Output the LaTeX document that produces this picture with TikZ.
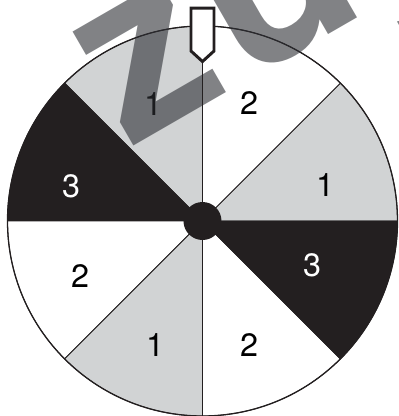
\documentclass[tikz,border=0pt]{standalone}
\usepackage{fontspec}
\setmainfont{TeX Gyre Heros}
\definecolor{spinlight}{RGB}{209,211,212}
\definecolor{spindark}{RGB}{35,31,32}
\definecolor{wmark}{RGB}{45,47,52}

\begin{document}
\begin{tikzpicture}[x=0.025cm, y=0.025cm, every node/.style={font=\fontsize{23}{23}\selectfont},
	lbl/.style={inner sep=0pt},
	wedge/.style={draw=spindark, line width=0.6pt}]
	\useasboundingbox (-202.5,-195) rectangle (196.5,221);
	\coordinate (hub) at (0,0);
	% the eight sectors, counter-clockwise from the right
	\foreach \a/\c in {0/spinlight,45/white,90/spinlight,135/spindark,180/white,225/spinlight,270/white,315/spindark}
		\filldraw[wedge, fill=\c] (hub) -- (\a:195) arc[start angle=\a, delta angle=45, radius=195] -- cycle;
	\draw[spindark, line width=0.9pt] (hub) circle[radius=195];
	\node[lbl] (s1) at (-49.5,117) {1};
	\node[lbl] (s2) at (46.5,117.5) {2};
	\node[lbl] (s3) at (122.5,36) {1};
	\node[lbl, text=white] (s4) at (109.5,-44) {3};
	\node[lbl] (s5) at (46.5,-124) {2};
	\node[lbl] (s6) at (-47.5,-124) {1};
	\node[lbl] (s7) at (-122.5,-55) {2};
	\node[lbl, text=white] (s8) at (-131.5,35) {3};
	% watermark
	\begin{scope}
		\clip (-202.5,-195) rectangle (196.5,221);
		\node[anchor=base west, inner sep=0pt, rotate=30, text=wmark, text opacity=0.6, font=\fontsize{170}{170}\selectfont\bfseries\addfontfeatures{LetterSpace=6}] (wm) at (-73.3,72) {zujuan};
	\end{scope}
	% pointer
	\coordinate (tip) at (0,159.5);
	\coordinate (foot) at (0,-195);
	\draw[spindark, line width=0.7pt] (tip) -- (foot);
	\filldraw[fill=white, draw=spindark, line width=2.1pt] (-11.5,212.8) -- (11.5,212.8) -- (11.5,170) -- (tip) -- (-11.5,170) -- cycle;
	\fill[spindark] (hub) circle[radius=19];
\end{tikzpicture}
\end{document}
